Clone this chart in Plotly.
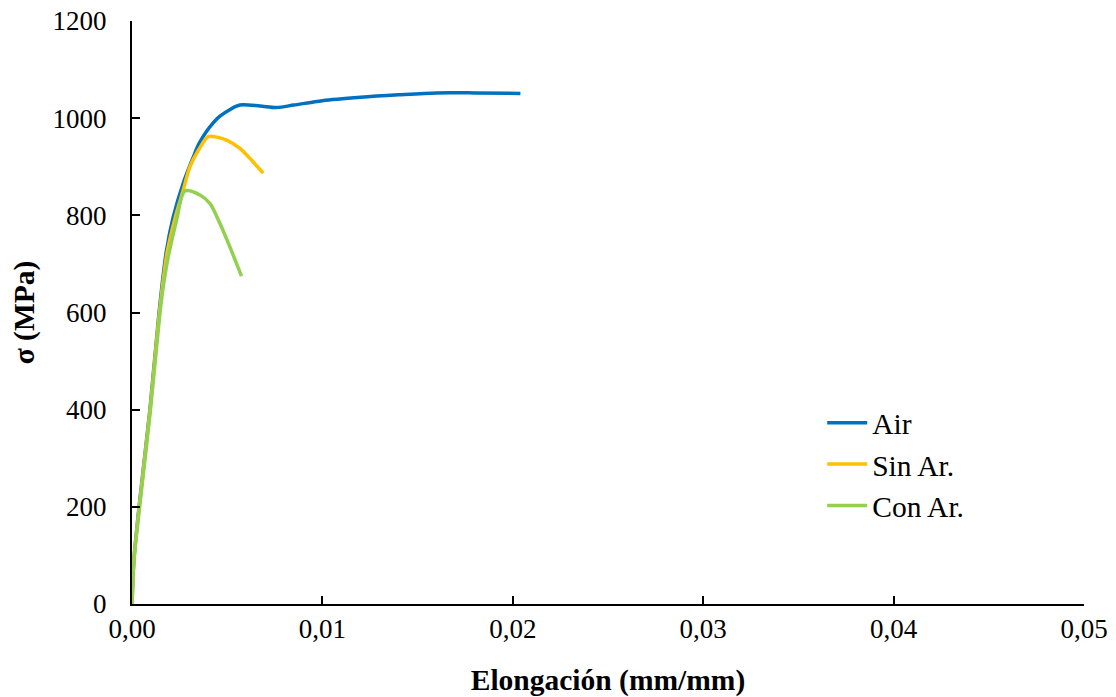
import plotly.graph_objects as go

# Air
air_x = [0, 0.0001, 0.00037, 0.00094, 0.00142, 0.0018, 0.00217, 0.00269, 0.00322, 0.0035, 0.0039, 0.0043,
         0.00462, 0.0052, 0.00567, 0.00672, 0.0076, 0.0085, 0.010, 0.012, 0.014, 0.016, 0.018, 0.0204]
air_y = [0, 90, 200, 400, 600, 725, 797, 866, 920, 946, 972, 992,
         1004, 1019, 1027, 1025, 1022, 1027, 1036, 1043, 1048, 1052, 1052, 1051]

# Sin Ar.
sin_x = [0, 0.0001, 0.00038, 0.00095, 0.00144, 0.00185, 0.0023, 0.00269, 0.00304, 0.0035, 0.0040,
         0.00445, 0.00497, 0.00567, 0.0062, 0.00689]
sin_y = [0, 90, 200, 400, 600, 725, 800, 852, 900, 935, 962,
         961, 955, 938, 917, 887]

# Con Ar.
con_x = [0, 0.0001, 0.0004, 0.00097, 0.00147, 0.00164, 0.0019, 0.00234, 0.00278, 0.00357, 0.0041,
         0.00462, 0.00514, 0.00575]
con_y = [0, 90, 200, 400, 600, 653, 714, 790, 850, 842, 824,
         783, 735, 675]

x_ticks = [0, 0.01, 0.02, 0.03, 0.04, 0.05]
y_ticks = [0, 200, 400, 600, 800, 1000, 1200]

fig = go.Figure()
for name, xs, ys, col in [("Air", air_x, air_y, "#0070C0"),
                          ("Sin Ar.", sin_x, sin_y, "#FFC000"),
                          ("Con Ar.", con_x, con_y, "#92D050")]:
    fig.add_trace(go.Scatter(x=xs, y=ys, mode="lines", name=name,
                             line=dict(color=col, width=3.5, shape="spline", smoothing=0.8)))

font = "Liberation Serif"
fig.update_layout(
    width=1116, height=697,
    paper_bgcolor="white", plot_bgcolor="white",
    margin=dict(l=132, r=32, t=21, b=93),
    separators=",.",
    font=dict(family=font, size=27, color="black"),
    showlegend=True,
    legend=dict(x=0.725, y=0.355, xanchor="left", yanchor="top",
                font=dict(family=font, size=29.5, color="black"),
                bgcolor="rgba(0,0,0,0)", tracegroupgap=0, itemwidth=40),
)
fig.update_xaxes(range=[0, 0.05], tickvals=x_ticks, tickformat=".2f", automargin=False,
                 showgrid=False, zeroline=False, showline=True, linecolor="black", linewidth=2,
                 ticks="inside", ticklen=8, tickwidth=2, tickcolor="black",
                 title=dict(text="<b>Elongación (mm/mm)</b>", font=dict(family=font, size=29.5), standoff=29))
fig.update_yaxes(range=[0, 1200], tickvals=y_ticks, tickformat="d", automargin=False,
                 showgrid=False, zeroline=False, showline=True, linecolor="black", linewidth=2,
                 ticks="inside", ticklen=8, tickwidth=2, tickcolor="black", ticklabelstandoff=18,
                 title=dict(text="<b>σ (MPa)</b>", font=dict(family=font, size=29.5), standoff=9))

fig.write_html("out.html")
